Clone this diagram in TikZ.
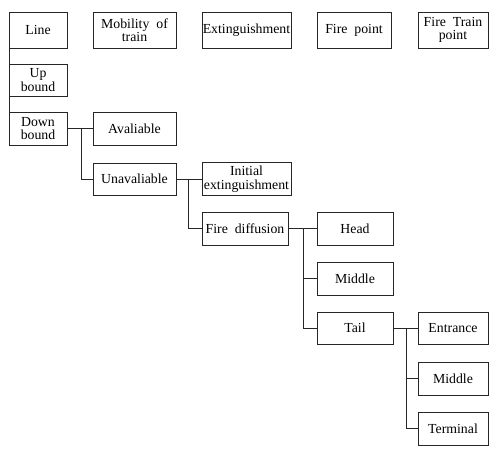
\documentclass[tikz,border=0pt]{standalone}
\usepackage{fontspec}
\setmainfont{Liberation Serif}
\begin{document}
\begin{tikzpicture}[x=1pt,y=-1pt,
  box/.style={draw=black!85,line width=0.9pt,rectangle,inner sep=0pt,outer sep=0pt,align=center,
    font=\fontsize{13.8}{13.5}\selectfont},
  conn/.style={draw=black!85,line width=0.9pt}]
\useasboundingbox (0,0) rectangle (500,456);
\node[box,minimum width=58,minimum height=36] (line) at (38,30) {Line};
\node[box,minimum width=83,minimum height=36] (mob) at (134.5,30) {Mobility~ of\\train};
\node[box,minimum width=89,minimum height=36] (ext) at (246.5,30) {Extinguishment};
\node[box,minimum width=74,minimum height=36] (fp) at (354,30) {Fire~ point};
\node[box,minimum width=70,minimum height=36] (ftp) at (453,30) {Fire~ Train\\point};
\node[box,minimum width=58,minimum height=32] (up) at (38,80) {Up\\bound};
\node[box,minimum width=58,minimum height=33] (down) at (38,128.5) {Down\\bound};
\node[box,minimum width=83,minimum height=33] (aval) at (134.5,128.5) {Avaliable};
\node[box,minimum width=83,minimum height=32] (unav) at (134.5,179) {Unavaliable};
\node[box,minimum width=89,minimum height=33] (init) at (246.5,179) {Initial\\extinguishment};
\node[box,minimum width=86,minimum height=33] (diff) at (245,228.5) {Fire~ diffusion};
\node[box,minimum width=76,minimum height=33] (head) at (355,228.5) {Head};
\node[box,minimum width=76,minimum height=33] (mid) at (355,278.5) {Middle};
\node[box,minimum width=76,minimum height=32] (tail) at (355,328) {Tail};
\node[box,minimum width=70,minimum height=32] (ent) at (453,328) {Entrance};
\node[box,minimum width=70,minimum height=33] (mid2) at (453,378.5) {Middle};
\node[box,minimum width=70,minimum height=33] (term) at (453,428.5) {Terminal};
\coordinate (j1) at (81,128.5);
\coordinate (j2) at (188,179);
\coordinate (j3) at (303,228.5);
\coordinate (j4) at (406,328);
\draw[conn] (line.south west) -- (up.north west);
\draw[conn] (up.south west) -- (down.north west);
\draw[conn] (down.east) -- (aval.west);
\draw[conn] (j1) |- (unav.west);
\draw[conn] (unav.east) -- (init.west);
\draw[conn] (j2) |- (diff.west);
\draw[conn] (diff.east) -- (head.west);
\draw[conn] (j3) |- (mid.west);
\draw[conn] (j3) |- (tail.west);
\draw[conn] (tail.east) -- (ent.west);
\draw[conn] (j4) |- (mid2.west);
\draw[conn] (j4) |- (term.west);
\end{tikzpicture}
\end{document}
